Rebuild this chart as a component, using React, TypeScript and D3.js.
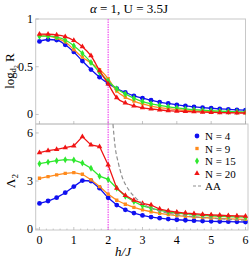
import React from "react";
import * as d3 from "d3";

const hValues = d3.range(25).map((i) => i * 0.25);

const topBlue = [0.765, 0.785, 0.78, 0.73, 0.655, 0.56, 0.47, 0.39, 0.325, 0.27, 0.23, 0.195, 0.17, 0.15, 0.13, 0.115, 0.1, 0.09, 0.08, 0.072, 0.065, 0.059, 0.054, 0.049, 0.045];
const topOrange = [0.825, 0.82, 0.8, 0.76, 0.68, 0.6, 0.54, 0.47, 0.375, 0.245, 0.18, 0.14, 0.11, 0.088, 0.072, 0.06, 0.051, 0.044, 0.038, 0.034, 0.03, 0.027, 0.024, 0.022, 0.02];
const topGreen = [0.82, 0.82, 0.81, 0.78, 0.72, 0.64, 0.545, 0.44, 0.35, 0.27, 0.215, 0.17, 0.135, 0.112, 0.095, 0.08, 0.068, 0.058, 0.05, 0.044, 0.039, 0.035, 0.031, 0.028, 0.025];
const topRed = [0.842, 0.84, 0.833, 0.815, 0.775, 0.71, 0.615, 0.46, 0.32, 0.175, 0.12, 0.09, 0.07, 0.057, 0.048, 0.04, 0.035, 0.031, 0.028, 0.025, 0.022, 0.02, 0.018, 0.016, 0.015];

const botBlue = [1.6, 1.75, 1.96, 2.27, 2.65, 3.03, 3.0, 2.55, 1.95, 1.5, 1.2, 1.0, 0.85, 0.75, 0.68, 0.62, 0.58, 0.55, 0.52, 0.5, 0.48, 0.47, 0.46, 0.45, 0.44];
const botOrange = [3.17, 3.27, 3.38, 3.48, 3.52, 3.42, 3.08, 2.65, 2.18, 1.8, 1.55, 1.35, 1.2, 1.08, 0.98, 0.9, 0.84, 0.79, 0.75, 0.72, 0.69, 0.66, 0.64, 0.62, 0.6];
const botGreen = [4.08, 4.18, 4.27, 4.33, 4.31, 4.12, 3.8, 3.3, 3.1, 2.55, 2.05, 1.72, 1.45, 1.3, 1.17, 1.08, 1.0, 0.95, 0.9, 0.86, 0.83, 0.8, 0.78, 0.76, 0.74];
const botRed = [4.77, 4.9, 4.98, 5.08, 5.19, 5.77, 5.25, 5.15, 4.0, 2.55, 2.1, 1.8, 1.6, 1.5, 1.25, 1.13, 1.06, 1.0, 0.96, 0.92, 0.89, 0.86, 0.84, 0.82, 0.8];

const aaH = [2.14, 2.2, 2.3, 2.4, 2.5, 2.6, 2.8, 3.0, 3.25, 3.5, 4.0, 4.5, 5.0, 5.5, 6.0];
const aaVal = [6.55, 5.2, 4.1, 3.3, 2.8, 2.45, 1.95, 1.6, 1.3, 1.12, 0.9, 0.77, 0.68, 0.6, 0.55];

const seriesNames = ["N = 4", "N = 9", "N = 15", "N = 20"];
const seriesColors = ["#1010f0", "#ff8a1c", "#2ee82e", "#f01414"];
const seriesSymbols = [d3.symbolCircle, d3.symbolSquare, d3.symbolDiamond, d3.symbolTriangle];
const symbolSizes = [18, 11, 14, 13];

const xTicks = [0, 1, 2, 3, 4, 5, 6];
const topTicks = [0, 0.5, 1];
const topTickLabels = ["0", "0.5", "1"];
const botTicks = [0, 3, 6];
const criticalH = 2;

export default function App() {
  const W = 249, H = 260;
  const left = 35.7, rightTop = 245.5, rightBot = 248;
  const topY0 = 19, midY = 124, botY1 = 230;
  const x = d3.scaleLinear().domain([-0.11, 6]).range([left, rightTop]);
  const yTop = d3.scaleLinear().domain([-0.1, 1.0]).range([midY, topY0]);
  const yBot = d3.scaleLinear().domain([-0.06, 6.56]).range([botY1, midY]);

  const topData = [topBlue, topOrange, topGreen, topRed];
  const botData = [botBlue, botOrange, botGreen, botRed];

  const lineTop = d3.line<number>().x((_, i) => x(hValues[i])).y((d) => yTop(d)).curve(d3.curveMonotoneX);
  const lineBot = d3.line<number>().x((_, i) => x(hValues[i])).y((d) => yBot(d));
  const lineAA = d3.line<number>().x((_, i) => x(aaH[i])).y((d) => yBot(d)).curve(d3.curveMonotoneX);

  const frameColor = "#c8c8c8";
  const tickColor = "#a0a0a0";
  const minorX = d3.range(-0.0, 6.01, 0.2).filter((v) => Math.abs(v - Math.round(v)) > 0.01);
  const font = "Liberation Serif, Times New Roman, serif";

  const renderSeries = (data: number[][], lineGen: any, yS: any) =>
    data.map((arr, si) => (
      <g key={si}>
        <path d={lineGen(arr) || ""} fill="none" stroke={seriesColors[si]} strokeWidth={1.3} />
        {arr.map((v, i) => (
          <path
            key={i}
            d={d3.symbol().type(seriesSymbols[si]).size(symbolSizes[si])() || ""}
            transform={`translate(${x(hValues[i])},${yS(v)})`}
            fill={seriesColors[si]}
          />
        ))}
      </g>
    ));

  return (
    <svg width={W} height={H} style={{ position: "absolute", left: 0, top: 0 }} fontFamily={font}>
      <rect width={W} height={H} fill="#fff" />
      <defs>
        <clipPath id="clipTop"><rect x={left} y={topY0} width={rightTop - left} height={midY - topY0} /></clipPath>
        <clipPath id="clipBot"><rect x={left} y={midY} width={rightBot - left} height={botY1 - midY} /></clipPath>
      </defs>
      {/* title */}
      <text x={129} y={13} fontSize={13} textAnchor="middle">
        <tspan fontStyle="italic">α</tspan> = 1, U = 3.5J
      </text>
      {/* frames */}
      <rect x={left} y={topY0} width={rightTop - left} height={midY - topY0} fill="none" stroke={frameColor} strokeWidth={1} />
      <rect x={left} y={midY} width={rightBot - left} height={botY1 - midY} fill="none" stroke={frameColor} strokeWidth={1} />
      {/* ticks */}
      {xTicks.map((t) => (
        <g key={"xt" + t}>
          <line x1={x(t)} x2={x(t)} y1={botY1} y2={botY1 - 3} stroke={tickColor} strokeWidth={0.6} />
          <line x1={x(t)} x2={x(t)} y1={midY} y2={midY - 3} stroke={tickColor} strokeWidth={0.6} />
          <text x={x(t)} y={244} fontSize={12} textAnchor="middle">{t}</text>
        </g>
      ))}
      {minorX.map((t, i) => (
        <line key={"mx" + i} x1={x(t)} x2={x(t)} y1={botY1} y2={botY1 - 1.5} stroke={tickColor} strokeWidth={0.5} />
      ))}
      {topTicks.map((t, i) => (
        <g key={"yt" + i}>
          <line x1={left} x2={left + 3} y1={yTop(t)} y2={yTop(t)} stroke={tickColor} strokeWidth={0.6} />
          <text x={33} y={yTop(t) + 4} fontSize={12} textAnchor="end">{topTickLabels[i]}</text>
        </g>
      ))}
      {botTicks.map((t) => (
        <g key={"bt" + t}>
          <line x1={left} x2={left + 3} y1={yBot(t)} y2={yBot(t)} stroke={tickColor} strokeWidth={0.6} />
          <text x={33} y={yBot(t) + 4} fontSize={12} textAnchor="end">{t}</text>
        </g>
      ))}
      {/* axis labels */}
      <text transform="translate(14,71) rotate(-90)" fontSize={13} textAnchor="middle">
        log<tspan fontSize={8} dy={2}>d</tspan><tspan fontSize={6} dy={1.5}>2</tspan><tspan dy={-3.5}> R</tspan>
      </text>
      <text transform="translate(15,181) rotate(-90)" fontSize={13} textAnchor="middle">
        Λ<tspan fontSize={9} dy={3}>2</tspan>
      </text>
      <text x={123} y={256} fontSize={13} textAnchor="middle" fontStyle="italic">h/J</text>
      {/* critical line */}
      <line x1={x(criticalH)} x2={x(criticalH)} y1={topY0} y2={botY1} stroke="#f050f0" strokeWidth={1.2} strokeDasharray="1.5,1" />
      {/* top series */}
      <g clipPath="url(#clipTop)">{renderSeries(topData, lineTop, yTop)}</g>
      {/* bottom */}
      <g clipPath="url(#clipBot)">
        {renderSeries(botData, lineBot, yBot)}
        <path d={lineAA(aaVal) || ""} fill="none" stroke="#909090" strokeWidth={1.2} strokeDasharray="4,2.5" />
      </g>
      {/* legend */}
      {seriesNames.map((n, i) => (
        <g key={"lg" + i} transform={`translate(0,${136 + i * 12.5})`}>
          <path d={d3.symbol().type(seriesSymbols[i]).size(symbolSizes[i])() || ""} transform="translate(197,0)" fill={seriesColors[i]} />
          <text x={205} y={4} fontSize={11}>{n}</text>
        </g>
      ))}
      <g transform={`translate(0,${136 + 4 * 12.5})`}>
        <line x1={193} x2={201} y1={0} y2={0} stroke="#909090" strokeWidth={1.2} strokeDasharray="3,2" />
        <text x={205} y={4} fontSize={11}>AA</text>
      </g>
    </svg>
  );
}
